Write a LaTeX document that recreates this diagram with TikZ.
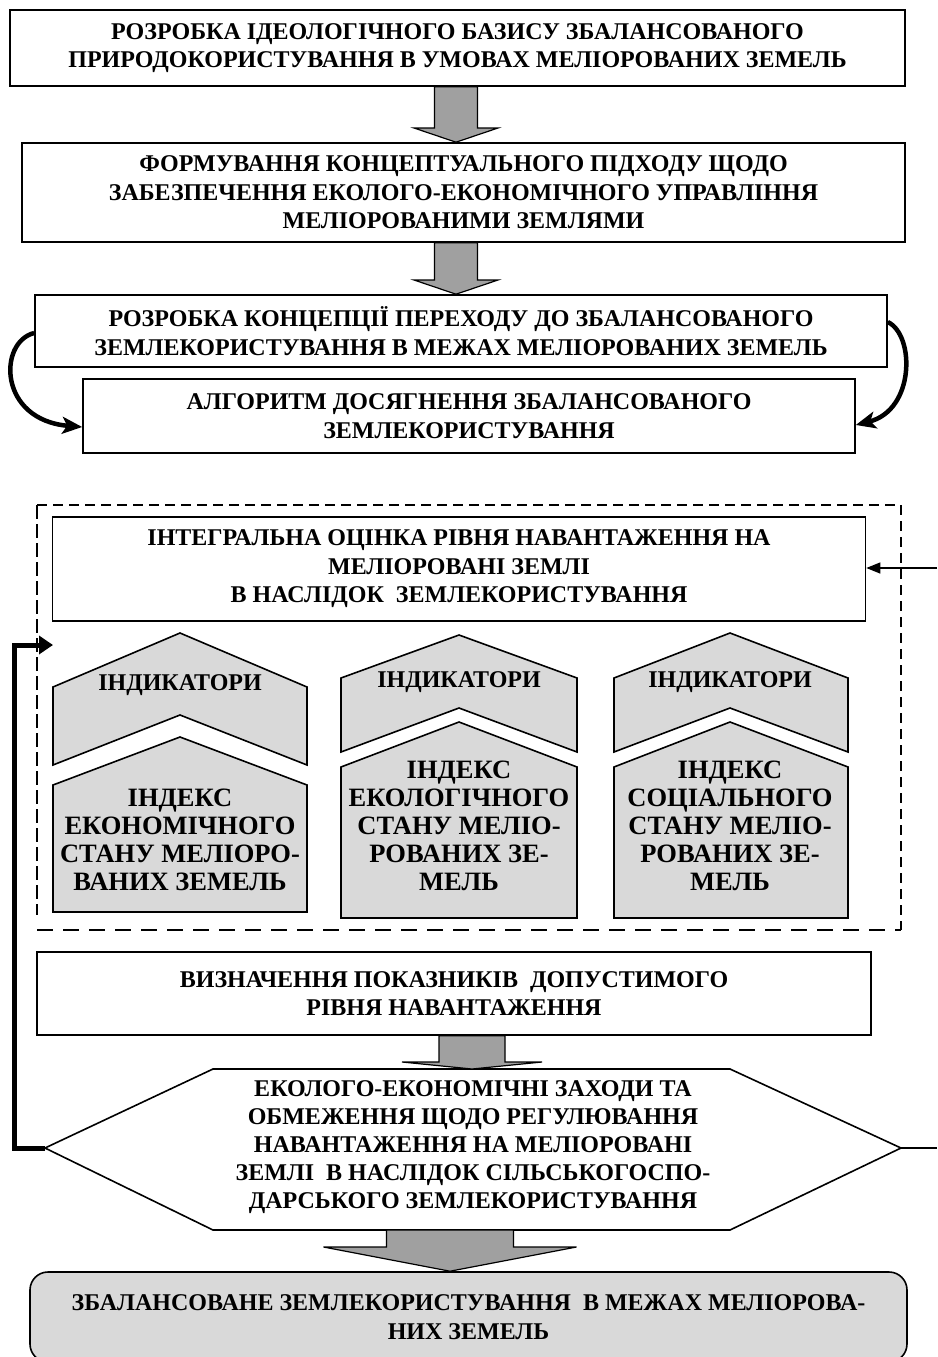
\documentclass[tikz,border=0pt]{standalone}
\usepackage{fontspec}
\setmainfont{Liberation Serif}
\usetikzlibrary{arrows.meta,calc}
\definecolor{arrgray}{RGB}{160,160,160}
\definecolor{lgray}{RGB}{217,217,217}
\newcommand\blkarrow[6]{%
  \draw[barrow] (#3-#4,0 |- #1) -- (#3-#4,#6) -- (#3-#5,#6) -- (#3,0 |- #2)
    -- (#3+#5,#6) -- (#3+#4,#6) -- (#3+#4,0 |- #1) -- cycle;}
\begin{document}
\begin{tikzpicture}[x=1pt,y=-1pt,
  box/.style={draw, line width=1.6pt, fill=white, align=center, inner sep=0pt,
    font=\bfseries\fontsize{24}{28.5}\selectfont},
  barrow/.style={draw, line width=1.2pt, fill=arrgray, line join=miter},
  house/.style={draw, line width=1.6pt, fill=lgray, line join=miter},
  lbl/.style={align=center, inner sep=0pt, font=\bfseries\fontsize{24}{28}\selectfont},
  idx/.style={align=center, inner sep=0pt, font=\bfseries\fontsize{26.5}{28}\selectfont},
  curv/.style={line width=4.5pt, -{Stealth[length=20pt,width=17pt,inset=5pt]}},
  ]
\useasboundingbox (0,0) rectangle (937,1357);

% top boxes
\node[box, minimum width=895pt, minimum height=76pt] (b1) at (457.5,48)
  {РОЗРОБКА ІДЕОЛОГІЧНОГО БАЗИСУ ЗБАЛАНСОВАНОГО\\ПРИРОДОКОРИСТУВАННЯ В УМОВАХ МЕЛІОРОВАНИХ ЗЕМЕЛЬ};
\node[box, minimum width=883pt, minimum height=99pt] (b2) at (463.5,192.5)
  {ФОРМУВАННЯ КОНЦЕПТУАЛЬНОГО ПІДХОДУ ЩОДО\\ЗАБЕЗПЕЧЕННЯ ЕКОЛОГО-ЕКОНОМІЧНОГО УПРАВЛІННЯ\\МЕЛІОРОВАНИМИ ЗЕМЛЯМИ};
\node[box, minimum width=852pt, minimum height=72pt] (b3) at (461,331)
  {РОЗРОБКА КОНЦЕПЦІЇ ПЕРЕХОДУ ДО ЗБАЛАНСОВАНОГО\\ЗЕМЛЕКОРИСТУВАННЯ В МЕЖАХ МЕЛІОРОВАНИХ ЗЕМЕЛЬ};
\node[box, minimum width=772pt, minimum height=74pt] (b4) at (469,416)
  {АЛГОРИТМ ДОСЯГНЕННЯ ЗБАЛАНСОВАНОГО\\ЗЕМЛЕКОРИСТУВАННЯ};

\blkarrow{b1.south}{b2.north}{456}{21.5}{42}{128}
\blkarrow{b2.south}{b3.north}{456}{21.5}{42}{280}

\draw[curv] ([yshift=-2pt]b3.west) .. controls (-2,342) and (-2,420) .. ([yshift=-11pt]b4.west);
\draw[curv] ([yshift=9pt]b3.east) .. controls (915,335) and (915,410) .. ([yshift=-9pt]b4.east);

% dashed region
\draw[line width=1.2pt, dash pattern=on 10pt off 6pt] (37,505) -- (901,505) -- (901,930);
\draw[line width=1.2pt, dash pattern=on 14pt off 5pt] (37,505) -- (37,915);
\draw[line width=1.8pt, dash pattern=on 16pt off 10pt] (37,930) -- (901,930);

\node[box, minimum width=813pt, minimum height=104pt] (b5) at (459,569)
  {ІНТЕГРАЛЬНА ОЦІНКА РІВНЯ НАВАНТАЖЕННЯ НА\\МЕЛІОРОВАНІ ЗЕМЛІ\\В НАСЛІДОК~~ЗЕМЛЕКОРИСТУВАННЯ};

% indicator shapes
\draw[house] (53,687) -- (180,633) -- (307,687) -- (307,765) -- (180,715) -- (53,765) -- cycle;
\draw[house] (53,785) -- (180,737) -- (307,785) -- (307,912) -- (53,912) -- cycle;
\draw[house] (341,678) -- (459,635) -- (577,678) -- (577,752) -- (459,708) -- (341,752) -- cycle;
\draw[house] (341,767) -- (459,722) -- (577,767) -- (577,918) -- (341,918) -- cycle;
\draw[house] (614,678) -- (730,633) -- (848,678) -- (848,752) -- (730,708) -- (614,752) -- cycle;
\draw[house] (614,767) -- (730,722) -- (848,767) -- (848,918) -- (614,918) -- cycle;

\node[lbl] (i1) at (180,685) {ІНДИКАТОРИ};
\node[lbl] (i2) at (459,682) {ІНДИКАТОРИ};
\node[lbl] (i3) at (730,682) {ІНДИКАТОРИ};
\node[idx] (x1) at (180,840) {ІНДЕКС\\ЕКОНОМІЧНОГО\\СТАНУ МЕЛІОРО-\\ВАНИХ ЗЕМЕЛЬ};
\node[idx] (x2) at (459,826) {ІНДЕКС\\ЕКОЛОГІЧНОГО\\СТАНУ МЕЛІО-\\РОВАНИХ ЗЕ-\\МЕЛЬ};
\node[idx] (x3) at (730,826) {ІНДЕКС\\СОЦІАЛЬНОГО\\СТАНУ МЕЛІО-\\РОВАНИХ ЗЕ-\\МЕЛЬ};

\node[box, minimum width=834pt, minimum height=83pt] (b6) at (454,993.5)
  {ВИЗНАЧЕННЯ ПОКАЗНИКІВ~~ДОПУСТИМОГО\\РІВНЯ НАВАНТАЖЕННЯ};

% hexagon
\coordinate (hexW) at (45,1148);
\coordinate (hexE) at (901,1148);
\coordinate (hexN) at (473,1069);
\coordinate (hexS) at (473,1230);
\draw[line width=1.6pt, fill=white] (hexW) -- (213,1069) -- (730,1069) -- (hexE) -- (730,1230) -- (213,1230) -- cycle;
\node[lbl] (hex) at (473,1147) {ЕКОЛОГО-ЕКОНОМІЧНІ ЗАХОДИ ТА\\ОБМЕЖЕННЯ ЩОДО РЕГУЛЮВАННЯ\\НАВАНТАЖЕННЯ НА МЕЛІОРОВАНІ\\ЗЕМЛІ~~В НАСЛІДОК СІЛЬСЬКОГОСПО-\\ДАРСЬКОГО ЗЕМЛЕКОРИСТУВАННЯ};

\blkarrow{b6.south}{hexN}{472}{33}{70}{1062}

% final box
\node[box, rounded corners=18pt, fill=lgray, minimum width=877pt, minimum height=90pt] (b7) at (468.5,1317)
  {ЗБАЛАНСОВАНЕ ЗЕМЛЕКОРИСТУВАННЯ~~В МЕЖАХ МЕЛІОРОВА-\\НИХ ЗЕМЕЛЬ};
\blkarrow{hexS}{b7.north}{450}{63.5}{126.5}{1247}

% feedback and side connectors
\coordinate (fbt) at (53,645);
\draw[line width=5pt, line join=miter, -{Triangle[length=14pt,width=18pt]}] (hexW) -- ++(-31,0) |- (fbt);
\coordinate (redge) at (937,1148);
\draw[line width=1.3pt] (hexE) -- (redge);
\coordinate (rin) at (937,568);
\draw[line width=1.3pt, -{Triangle[length=14pt,width=11pt]}] (rin) -- (rin -| b5.east);
\end{tikzpicture}
\end{document}
